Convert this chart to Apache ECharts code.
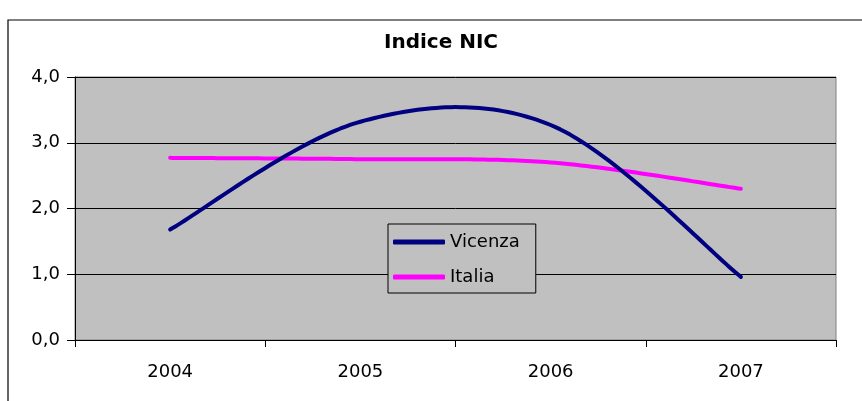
<!DOCTYPE html>
<html>
<head>
<meta charset="utf-8">
<script src="https://cdn.jsdelivr.net/npm/echarts@6/dist/echarts.min.js"></script>
<style>
  html, body { margin: 0; padding: 0; background: #ffffff; }
  #chart { width: 862px; height: 401px; }
</style>
</head>
<body>
<div id="chart"></div>
<script>
// Annual NIC index: Vicenza vs. Italia
const years = ['2004', '2005', '2006', '2007'];
const vicenza = [1.68, 3.32, 3.27, 0.96];
const italia = [2.77, 2.75, 2.70, 2.30];
const yTicks = [0, 1, 2, 3, 4];

const FONT = 'DejaVu Sans, Liberation Sans, Arial, sans-serif';
const chart = echarts.init(document.getElementById('chart'));

// Smoothed line (cardinal spline through every data point, like a
// spreadsheet "smoothed line"), drawn once from the first item.
function splineRenderer(values, color) {
  return function (params, api) {
    if (params.dataIndex !== 0) return null;
    const pts = values.map((v, i) => api.coord([i, v]));
    const out = [pts[0]];
    const steps = 40;
    for (let i = 0; i < pts.length - 1; i++) {
      const p0 = pts[Math.max(i - 1, 0)];
      const p1 = pts[i];
      const p2 = pts[i + 1];
      const p3 = pts[Math.min(i + 2, pts.length - 1)];
      const c1 = [p1[0] + (p2[0] - p0[0]) / 6, p1[1] + (p2[1] - p0[1]) / 6];
      const c2 = [p2[0] - (p3[0] - p1[0]) / 6, p2[1] - (p3[1] - p1[1]) / 6];
      for (let s = 1; s <= steps; s++) {
        const t = s / steps, u = 1 - t;
        out.push([
          u * u * u * p1[0] + 3 * u * u * t * c1[0] + 3 * u * t * t * c2[0] + t * t * t * p2[0],
          u * u * u * p1[1] + 3 * u * u * t * c1[1] + 3 * u * t * t * c2[1] + t * t * t * p2[1]
        ]);
      }
    }
    return {
      type: 'polyline',
      shape: { points: out },
      style: { fill: 'none', stroke: color, lineWidth: 4, lineCap: 'round', lineJoin: 'round' }
    };
  };
}

chart.setOption({
  backgroundColor: '#ffffff',
  animation: false,
  title: {
    text: 'Indice NIC',
    left: 436,
    textAlign: 'center',
    top: 28,
    textStyle: { fontFamily: FONT, fontSize: 20, fontWeight: 'bold', color: '#000000' }
  },
  graphic: [{
    type: 'rect',
    shape: { x: 8, y: 20, width: 880, height: 420 },
    style: { fill: 'none', stroke: '#000000', lineWidth: 1.2 },
    silent: true,
    z: 0
  }],
  legend: {
    orient: 'vertical',
    left: 388,
    top: 224,
    data: ['Vicenza', 'Italia'],
    backgroundColor: '#c0c0c0',
    borderColor: '#000000',
    borderWidth: 1,
    padding: [7, 16, 5, 5],
    itemGap: 13,
    itemWidth: 52,
    itemHeight: 5,
    icon: 'roundRect',
    textStyle: { fontFamily: FONT, fontSize: 18, color: '#000000', lineHeight: 22 }
  },
  grid: {
    left: 75,
    top: 77,
    right: 26,
    bottom: 61,
    show: true,
    backgroundColor: '#c0c0c0',
    borderColor: '#808080',
    borderWidth: 1
  },
  xAxis: {
    type: 'category',
    data: years,
    boundaryGap: true,
    axisLine: { show: true, lineStyle: { color: '#000000', width: 1 } },
    axisTick: { show: true, length: 7, lineStyle: { color: '#000000' } },
    axisLabel: { margin: 23, fontFamily: FONT, fontSize: 18, color: '#000000' }
  },
  yAxis: {
    type: 'value',
    min: yTicks[0],
    max: yTicks[yTicks.length - 1],
    interval: 1,
    axisLine: { show: true, lineStyle: { color: '#000000', width: 1 } },
    axisTick: { show: true, length: 8, lineStyle: { color: '#000000' } },
    splitLine: { show: true, lineStyle: { color: '#000000', width: 1 } },
    axisLabel: {
      margin: 15,
      fontFamily: FONT,
      fontSize: 18,
      color: '#000000',
      formatter: v => v.toFixed(1).replace('.', ',')
    }
  },
  series: [
    {
      name: 'Vicenza',
      type: 'custom',
      coordinateSystem: 'cartesian2d',
      itemStyle: { color: '#000080' },
      data: years.map((y, i) => [i, vicenza[i]]),
      renderItem: splineRenderer(vicenza, '#000080'),
      z: 3
    },
    {
      name: 'Italia',
      type: 'custom',
      coordinateSystem: 'cartesian2d',
      itemStyle: { color: '#ff00ff' },
      data: years.map((y, i) => [i, italia[i]]),
      renderItem: splineRenderer(italia, '#ff00ff'),
      z: 2
    }
  ]
});
</script>
</body>
</html>
